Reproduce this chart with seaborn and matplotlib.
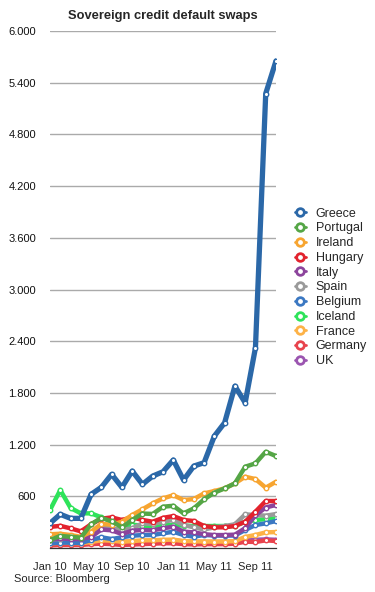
import numpy as np
import pandas as pd
import matplotlib
matplotlib.use("Agg")
import matplotlib.pyplot as plt
import seaborn as sns
from matplotlib.ticker import FuncFormatter, MultipleLocator

# monthly CDS levels, Jan 2010 .. Nov 2011
months = pd.date_range("2010-01-01", periods=23, freq="MS")
greece = [287, 391, 344, 344, 623, 704, 855, 704, 893, 739, 835, 885,
          1021, 789, 951, 990, 1299, 1454, 1879, 1686, 2324, 5274, 5653]
portugal = [93, 140, 130, 120, 275, 350, 310, 240, 325, 400, 395, 479,
            490, 402, 460, 565, 642, 692, 750, 943, 982, 1117, 1067]
ireland = [159, 165, 150, 130, 189, 280, 270, 305, 383, 449, 518, 576,
           612, 557, 568, 634, 661, 692, 750, 827, 800, 700, 769]
hungary = [245, 257, 228, 193, 275, 340, 355, 325, 356, 325, 305, 350,
           370, 325, 313, 255, 240, 240, 255, 305, 421, 545, 545]
italy = [93, 112, 104, 104, 128, 215, 205, 162, 201, 209, 205, 228,
         247, 190, 181, 160, 150, 150, 155, 230, 380, 470, 500]
spain = [90, 110, 120, 120, 170, 240, 230, 209, 228, 286, 280, 305,
         325, 267, 240, 215, 240, 255, 275, 390, 383, 375, 394]
belgium = [54, 62, 62, 58, 93, 124, 104, 124, 143, 150, 151, 170,
           189, 150, 132, 151, 145, 143, 145, 209, 267, 286, 313]
iceland = [441, 673, 465, 402, 402, 356, 310, 260, 270, 260, 255, 265,
           267, 260, 255, 255, 255, 255, 255, 305, 325, 335, 344]
france = [55, 60, 60, 55, 70, 90, 85, 73, 80, 89, 90, 95,
          97, 81, 78, 75, 75, 75, 80, 128, 151, 181, 185]
germany = [30, 35, 35, 35, 45, 50, 45, 35, 40, 45, 50, 55,
           55, 45, 42, 45, 45, 45, 50, 73, 70, 89, 81]
uk = [70, 80, 80, 75, 85, 90, 85, 70, 75, 80, 80, 85,
      90, 75, 70, 70, 70, 70, 75, 90, 95, 100, 95]

countries = ["Greece", "Portugal", "Ireland", "Hungary", "Italy", "Spain",
             "Belgium", "Iceland", "France", "Germany", "UK"]
series = [greece, portugal, ireland, hungary, italy, spain,
          belgium, iceland, france, germany, uk]
colors = ["#2b68a8", "#55a646", "#f7a531", "#e2232e", "#8c449c", "#9a9a9a",
          "#3b78c2", "#2ee35a", "#fdb247", "#e8434d", "#9b55b0"]
tick_labels = ["Jan 10", "May 10", "Sep 10", "Jan 11", "May 11", "Sep 11"]

df = pd.DataFrame({
    "month": np.tile(np.arange(len(months)), len(countries)),
    "cds": np.concatenate(series),
    "country": np.repeat(countries, len(months)),
})

sns.set_style("white")
plt.rcParams['font.family'] = ['Liberation Sans', 'DejaVu Sans']

fig = plt.figure(figsize=(3.75, 5.92), dpi=100)
ax = fig.add_axes([50 / 375, 1 - 548 / 592, 226 / 375, 517 / 592])

# draw back to front so Greece ends up on top
for name, col in list(zip(countries, colors))[::-1]:
    sub = df[df["country"] == name]
    sns.lineplot(
        data=sub, x="month", y="cds", ax=ax, color=col,
        linewidth=3.8 if name == "Greece" else 3.2,
        marker="o", markersize=3.2, markerfacecolor="white",
        markeredgecolor=col, markeredgewidth=1.0, label=name,
    )

ax.set_xlim(0, len(months) - 1)
ax.set_ylim(0, 6000)
ax.set_yticks(np.arange(600, 6001, 600))
ax.yaxis.set_major_formatter(FuncFormatter(lambda v, p: f"{v:,.0f}".replace(",", ".")))
ax.yaxis.grid(True, color="#aaaaaa", linewidth=1.0)
ax.set_axisbelow(True)
ax.tick_params(axis="y", length=0, labelsize=8, pad=10, labelcolor="#111111")

ax.set_xticks(np.arange(0, len(months), 4))
ax.set_xticklabels(tick_labels)
ax.xaxis.set_minor_locator(MultipleLocator(1))
ax.tick_params(axis="x", which="both", direction="out", length=3,
               width=0.8, color="#333333", labelsize=8, pad=7)

for s in ["top", "right", "left"]:
    ax.spines[s].set_visible(False)
ax.spines["bottom"].set_color("#333333")
ax.spines["bottom"].set_linewidth(0.9)

ax.set_xlabel("")
ax.set_ylabel("")
ax.set_title("Sovereign credit default swaps", fontsize=9.3, fontweight="bold", pad=9)

handles, labels = ax.get_legend_handles_labels()
order = [labels.index(c) for c in countries]
leg = ax.legend([handles[i] for i in order], [labels[i] for i in order],
                loc="upper left", bbox_to_anchor=(1.06, 0.668), frameon=False,
                fontsize=9, handlelength=0.9, handletextpad=0.8,
                labelspacing=0.22, borderaxespad=0)
for h in leg.legend_handles:
    h.set_linewidth(2.0)
    h.set_markersize(5.5)
    h.set_markeredgewidth(2.0)

fig.text(14 / 375, 1 - 579 / 592, "Source: Bloomberg", fontsize=8, va="center")

fig.savefig("out.png", dpi=100)
